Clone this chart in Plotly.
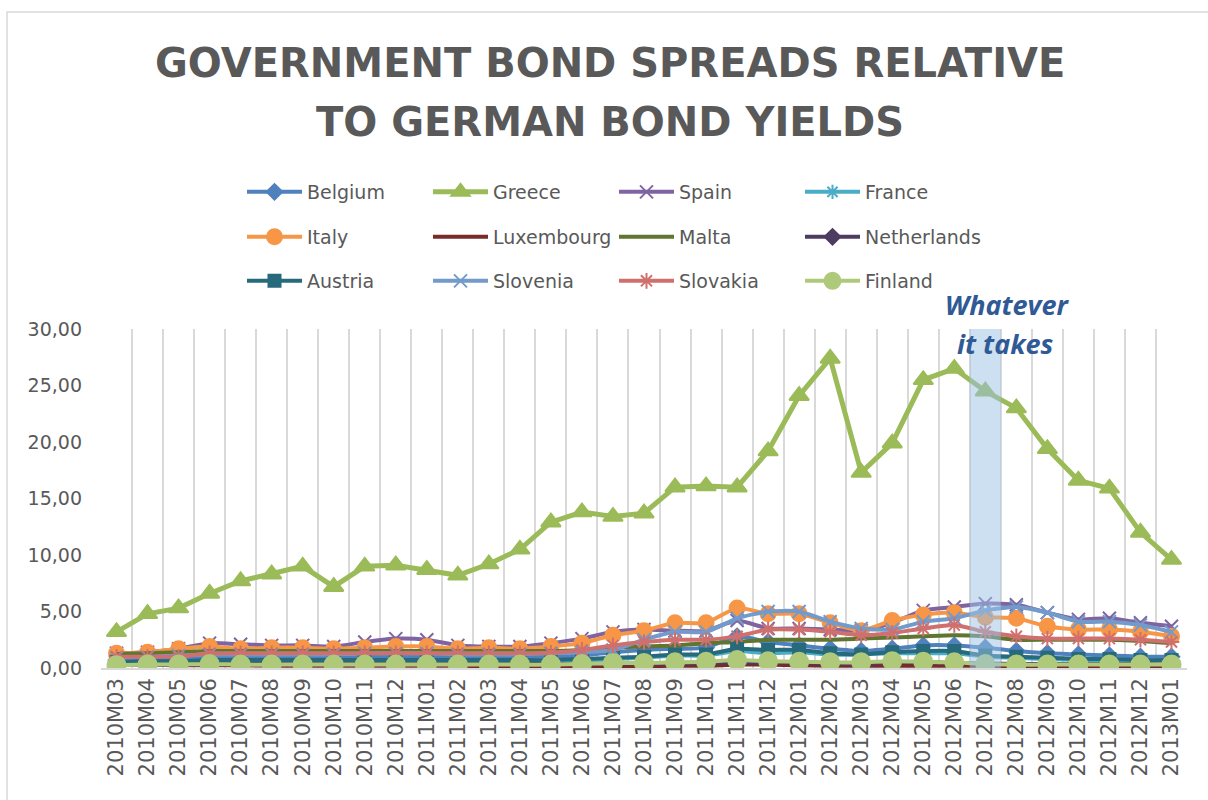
import plotly.graph_objects as go

# Monthly periods on the category axis
months = [
    "2010M03", "2010M04", "2010M05", "2010M06", "2010M07", "2010M08", "2010M09",
    "2010M10", "2010M11", "2010M12", "2011M01", "2011M02", "2011M03", "2011M04",
    "2011M05", "2011M06", "2011M07", "2011M08", "2011M09", "2011M10", "2011M11",
    "2011M12", "2012M01", "2012M02", "2012M03", "2012M04", "2012M05", "2012M06",
    "2012M07", "2012M08", "2012M09", "2012M10", "2012M11", "2012M12", "2013M01",
]

# Spreads over German bond yields, percentage points
belgium = [0.7, 0.7, 0.8, 0.9, 0.9, 0.9, 1.0, 0.9, 1.0, 1.0, 1.0, 1.0, 1.0, 1.0, 1.0, 1.1, 1.4,
           1.6, 1.7, 1.8, 2.8, 2.3, 2.0, 1.7, 1.5, 1.7, 2.0, 2.0, 1.8, 1.5, 1.3, 1.2, 1.1, 1.0, 1.0]
greece = [3.2, 4.8, 5.3, 6.6, 7.7, 8.3, 9.0, 7.2, 9.0, 9.1, 8.7, 8.2, 9.2, 10.5, 12.9, 13.8, 13.4,
          13.7, 16.0, 16.1, 16.0, 19.2, 24.1, 27.4, 17.3, 19.9, 25.5, 26.5, 24.5, 23.0, 19.4, 16.6,
          15.9, 12.0, 9.6]
spain = [1.3, 1.4, 1.7, 2.2, 2.1, 2.0, 2.0, 1.9, 2.3, 2.6, 2.5, 2.0, 1.9, 1.9, 2.2, 2.6, 3.2,
         3.4, 3.3, 3.3, 4.2, 3.5, 3.5, 3.4, 3.3, 4.0, 5.1, 5.4, 5.7, 5.6, 4.9, 4.3, 4.4, 4.0, 3.7]
france = [0.45, 0.45, 0.5, 0.55, 0.55, 0.55, 0.55, 0.55, 0.6, 0.6, 0.6, 0.6, 0.6, 0.6, 0.6, 0.65,
          0.8, 0.9, 1.1, 1.1, 1.5, 1.3, 1.4, 1.2, 1.2, 1.3, 1.3, 1.3, 1.0, 0.9, 0.8, 0.7, 0.7, 0.7, 0.7]
italy = [1.3, 1.4, 1.7, 1.9, 1.7, 1.8, 1.8, 1.7, 1.8, 1.9, 1.9, 1.7, 1.8, 1.7, 1.9, 2.2, 2.9,
         3.3, 4.0, 4.0, 5.3, 4.8, 4.8, 4.0, 3.3, 4.2, 4.7, 4.9, 4.5, 4.4, 3.7, 3.4, 3.4, 3.2, 2.8]
luxembourg = [0.3, 0.3, 0.25, 0.25, 0.25, 0.2, 0.2, 0.2, 0.2, 0.2, 0.2, 0.2, 0.15, 0.15, 0.15, 0.15,
              0.15, 0.15, 0.2, 0.2, 0.3, 0.3, 0.25, 0.2, 0.2, 0.2, 0.2, 0.2, 0.2, 0.15, 0.15, 0.15,
              0.15, 0.15, 0.15]
malta = [1.25, 1.3, 1.4, 1.5, 1.5, 1.5, 1.5, 1.5, 1.5, 1.5, 1.5, 1.5, 1.5, 1.5, 1.5, 1.6, 1.8,
         1.9, 2.0, 2.2, 2.3, 2.5, 2.5, 2.5, 2.6, 2.7, 2.8, 2.9, 2.8, 2.5, 2.5, 2.5, 2.5, 2.4, 2.2]
netherlands = [0.3, 0.3, 0.3, 0.35, 0.35, 0.35, 0.35, 0.35, 0.35, 0.35, 0.35, 0.35, 0.35, 0.35,
               0.35, 0.35, 0.4, 0.4, 0.4, 0.45, 0.5, 0.5, 0.5, 0.4, 0.4, 0.5, 0.5, 0.45, 0.4, 0.35,
               0.35, 0.35, 0.35, 0.35, 0.3]
austria = [0.55, 0.6, 0.6, 0.7, 0.7, 0.7, 0.7, 0.7, 0.7, 0.7, 0.7, 0.7, 0.7, 0.7, 0.7, 0.8, 0.9,
           1.0, 1.2, 1.2, 1.7, 1.6, 1.6, 1.3, 1.2, 1.4, 1.5, 1.5, 1.1, 1.0, 0.9, 0.8, 0.8, 0.7, 0.7]
slovenia = [0.9, 1.0, 1.1, 1.2, 1.2, 1.2, 1.2, 1.2, 1.3, 1.3, 1.3, 1.2, 1.2, 1.2, 1.3, 1.4, 1.6,
            2.5, 3.2, 3.2, 4.4, 5.0, 5.0, 4.1, 3.5, 3.4, 4.1, 4.4, 5.1, 5.4, 4.9, 4.1, 4.1, 3.8, 3.2]
slovakia = [1.0, 1.0, 1.0, 1.3, 1.3, 1.3, 1.3, 1.3, 1.3, 1.3, 1.3, 1.3, 1.3, 1.3, 1.35, 1.6, 2.0,
            2.3, 2.5, 2.5, 2.8, 3.4, 3.4, 3.2, 2.9, 3.1, 3.5, 3.8, 3.2, 2.8, 2.6, 2.6, 2.6, 2.5, 2.3]
finland = [0.25, 0.3, 0.3, 0.35, 0.3, 0.3, 0.3, 0.3, 0.3, 0.3, 0.3, 0.3, 0.3, 0.3, 0.3, 0.35, 0.45,
           0.45, 0.5, 0.55, 0.7, 0.6, 0.55, 0.5, 0.5, 0.6, 0.55, 0.5, 0.35, 0.3, 0.3, 0.3, 0.3, 0.3, 0.3]

highlight_month = "2012M07"

# name, values, colour, marker symbol (None = plain line), marker size, legend row
series = [
    ("Belgium", belgium, "#4F81BD", "diamond", 12, "legend"),
    ("Greece", greece, "#9BBB59", "triangle-up", 17, "legend"),
    ("Spain", spain, "#8064A2", "x-thin-open", 13, "legend"),
    ("France", france, "#4BACC6", "asterisk-open", 12, "legend"),
    ("Italy", italy, "#F79646", "circle", 15, "legend2"),
    ("Luxembourg", luxembourg, "#772C2A", None, 0, "legend2"),
    ("Malta", malta, "#5F7530", None, 0, "legend2"),
    ("Netherlands", netherlands, "#4D3B62", "diamond", 12, "legend2"),
    ("Austria", austria, "#276A7C", "square", 12, "legend3"),
    ("Slovenia", slovenia, "#729ACA", "x-thin-open", 13, "legend3"),
    ("Slovakia", slovakia, "#D0706E", "asterisk-open", 13, "legend3"),
    ("Finland", finland, "#AFC97A", "circle", 18, "legend3"),
]

fig = go.Figure()
for name, vals, color, symbol, size, leg in series:
    smooth = name != "Greece"
    kw = dict(
        x=months, y=vals, name=name, legend=leg,
        line=dict(color=color, width=5 if name == "Greece" else 4,
                  shape="spline" if smooth else "linear", smoothing=0.6),
    )
    if symbol:
        kw["mode"] = "lines+markers"
        kw["marker"] = dict(symbol=symbol, size=size, color=color,
                            line=dict(color=color, width=2))
    else:
        kw["mode"] = "lines"
    fig.add_trace(go.Scatter(**kw))

text_grey = "#595959"
L, R, T, B = 101, 21, 329, 132
W, H = 1208, 800
pw, ph = W - L - R, H - T - B


def px_x(x):
    return (x - L) / pw


def px_y(y):
    return (H - B - y) / ph


legend_common = dict(
    orientation="h", xanchor="left", yanchor="middle",
    entrywidth=116, entrywidthmode="pixels", itemwidth=55,
    font=dict(family="DejaVu Sans", size=19, color=text_grey),
    bgcolor="rgba(0,0,0,0)", traceorder="normal",
)
legend_left = px_x(242)

hl_idx = months.index(highlight_month)

fig.update_layout(
    width=W, height=H,
    margin=dict(l=L, r=R, t=T, b=B),
    paper_bgcolor="white", plot_bgcolor="white",
    separators=",.",
    showlegend=True,
    legend=dict(legend_common, x=legend_left, y=px_y(192)),
    legend2=dict(legend_common, x=legend_left, y=px_y(237)),
    legend3=dict(legend_common, x=legend_left, y=px_y(281)),
    xaxis=dict(
        type="category", tickson="boundaries", showgrid=True,
        gridcolor="#D9D9D9", gridwidth=1.5, ticks="",
        showline=True, linecolor="#D9D9D9", linewidth=1.5,
        tickangle=-90, tickfont=dict(family="DejaVu Sans", size=21, color=text_grey),
        range=[-0.5, len(months) - 0.5], zeroline=False,
    ),
    yaxis=dict(
        range=[0, 30], dtick=5, tickformat=".2f", showgrid=False,
        zeroline=False, showline=False, ticks="", ticklabelstandoff=18,
        tickfont=dict(family="DejaVu Sans", size=19, color=text_grey),
    ),
    shapes=[
        # outer chart border
        dict(type="rect", xref="paper", yref="paper",
             x0=px_x(7), x1=px_x(1300), y0=px_y(900), y1=px_y(12),
             line=dict(color="#D9D9D9", width=1.5), fillcolor="rgba(0,0,0,0)",
             layer="below"),
        # highlighted month band
        dict(type="rect", xref="x", yref="y",
             x0=hl_idx - 0.5, x1=hl_idx + 0.5, y0=0, y1=30,
             fillcolor="rgba(155,194,230,0.5)", line=dict(width=0), layer="above"),
    ],
    annotations=[
        dict(text="<b>GOVERNMENT BOND SPREADS RELATIVE</b>", xref="paper", yref="paper",
             x=px_x(610), y=px_y(63), xanchor="center", yanchor="middle", showarrow=False,
             font=dict(family="DejaVu Sans", size=40, color=text_grey)),
        dict(text="<b>TO GERMAN BOND YIELDS</b>", xref="paper", yref="paper",
             x=px_x(610), y=px_y(122), xanchor="center", yanchor="middle", showarrow=False,
             font=dict(family="DejaVu Sans", size=40, color=text_grey)),
        dict(text="<b><i>Whatever</i></b>", xref="paper", yref="paper",
             x=px_x(1007), y=px_y(305), xanchor="center", yanchor="middle", showarrow=False,
             font=dict(family="Open Sans", size=27, color="#2F5A96")),
        dict(text="<b><i>it takes</i></b>", xref="paper", yref="paper",
             x=px_x(1005), y=px_y(343), xanchor="center", yanchor="middle", showarrow=False,
             font=dict(family="Open Sans", size=27, color="#2F5A96")),
    ],
)

fig.write_html("out.html")
